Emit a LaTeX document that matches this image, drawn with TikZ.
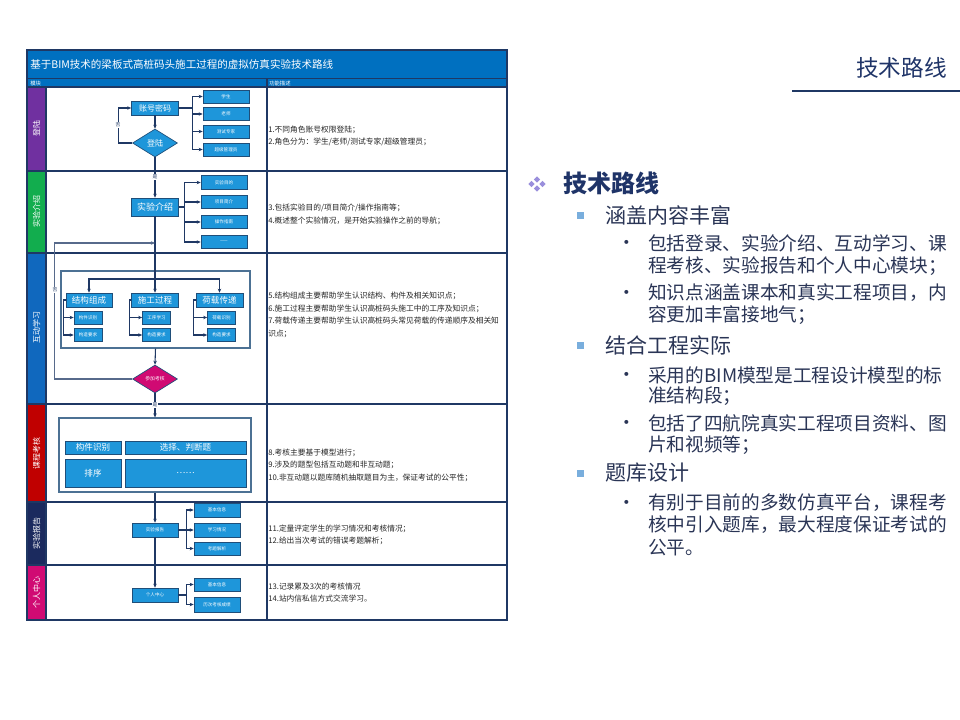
\documentclass[tikz,border=0pt]{standalone}
\usepackage{fontspec}
\setmainfont{Noto Sans CJK SC}
\usetikzlibrary{arrows.meta,shapes.geometric}
\definecolor{gridc}{HTML}{1F3864}
\definecolor{titleblue}{HTML}{0070C0}
\definecolor{boxfill}{HTML}{1E96DA}
\definecolor{boxedge}{HTML}{1F4E79}
\definecolor{mpurple}{HTML}{7030A0}
\definecolor{mgreen}{HTML}{12AD4E}
\definecolor{mblue}{HTML}{1068BE}
\definecolor{mred}{HTML}{C00000}
\definecolor{mnavy}{HTML}{1B2A5E}
\definecolor{mmag}{HTML}{D00A73}
\definecolor{headc}{HTML}{1F3468}
\definecolor{bodyc}{HTML}{2A3556}
\definecolor{lav}{HTML}{9A8FDC}
\definecolor{sqblue}{HTML}{79AEDD}
\newcommand\fsz[1]{\fontsize{#1}{#1}\selectfont}
\tikzset{
  box/.style={draw=boxedge, line width=0.5pt, fill=boxfill, text=white, inner sep=0pt, font=\fsz{6}},
  smallbox/.style={box, font=\fsz{3.4}},
  conn/.style={draw=gridc, line width=0.8pt},
  arr/.style={conn, -{Stealth[length=3pt,width=2.6pt]}},
  desc/.style={anchor=west, inner sep=0pt, font=\fsz{5.8}, text=black!85},
  modlabel/.style={rotate=90, text=white, font=\fsz{6}, inner sep=0pt},
  yn/.style={fill=white, inner sep=0.4pt, font=\fsz{3.6}, text=gridc},
  lvtwo/.style={anchor=west, inner sep=0pt, font=\fsz{15.75}, text=bodyc},
  lvthree/.style={anchor=west, inner sep=0pt, font=\fsz{14}, text=bodyc},
  frm/.style={draw=boxedge!80, line width=0.9pt, fill=white, inner sep=0pt}
}
\begin{document}
\begin{tikzpicture}[x=0.75pt,y=-0.75pt]
\useasboundingbox (0,0) rectangle (960,720);
\fill[white] (0,0) rectangle (960,720);

% header top right
\node[anchor=west, inner sep=0pt, font=\fsz{17}, text=headc] (hdr) at (856,68) {技术路线};
\draw[gridc, line width=1.3pt] (792,91) -- (960,91);

% ===== left diagram frame =====
\fill[titleblue] (27,50) rectangle (507,78);
\node[anchor=west, inner sep=0pt, text=white, font=\fsz{7.9}] (ttl) at (30,64) {基于BIM技术的梁板式高桩码头施工过程的虚拟仿真实验技术路线};
\fill[titleblue] (27,79) rectangle (507,87);
\node[anchor=west, inner sep=0pt, text=white, font=\fsz{4}] (hm) at (30,83) {模块};
\node[anchor=west, inner sep=0pt, text=white, font=\fsz{4}] (hd) at (269,83) {功能描述};

% module colour cells
\fill[mpurple] (27,87) rectangle (46,171);
\fill[mgreen] (27,171) rectangle (46,253);
\fill[mblue] (27,253) rectangle (46,404);
\fill[mred] (27,404) rectangle (46,502);
\fill[mnavy] (27,502) rectangle (46,565);
\fill[mmag] (27,565) rectangle (46,620);
\node[modlabel] (m1) at (36.5,129) {登陆};
\node[modlabel] (m2) at (36.5,212) {实验介绍};
\node[modlabel] (m3) at (36.5,328) {互动学习};
\node[modlabel] (m4) at (36.5,453) {课程考核};
\node[modlabel] (m5) at (36.5,533) {实验报告};
\node[modlabel] (m6) at (36.5,592) {个人中心};

% grid lines
\draw[gridc, line width=1.5pt] (27,50) rectangle (507,620);
\draw[gridc, line width=1.2pt] (27,78.5) -- (507,78.5);
\foreach \yy in {87,171,253,404,502,565} \draw[gridc, line width=1.6pt] (27,\yy) -- (507,\yy);
\draw[gridc, line width=1.2pt] (267,79) -- (267,620);
\draw[gridc, line width=0.8pt] (46,87) -- (46,620);

% ===== row 1 =====
\node[box, minimum width=35.25pt, minimum height=10.5pt] (acct) at (155,108) {账号密码};
\node[diamond, draw=boxedge, line width=0.5pt, fill=boxfill, text=white, inner sep=0pt, aspect=1.6, minimum width=33.75pt, minimum height=21pt, font=\fsz{6}] (login) at (155,143) {登陆};
\node[smallbox, minimum width=34.5pt, minimum height=9.75pt] (r1) at (226,96.5) {学生};
\node[smallbox, minimum width=34.5pt, minimum height=9.75pt] (r2) at (226,114) {老师};
\node[smallbox, minimum width=34.5pt, minimum height=9.75pt] (r3) at (226,131.5) {测试专家};
\node[smallbox, minimum width=34.5pt, minimum height=9.75pt] (r4) at (226,149.5) {超级管理员};
\draw[arr] (acct) -- (login);
\draw[arr] (login.west) -- ++(-14,0) |- (acct.west);
\foreach \n in {r1,r2,r3,r4} \draw[arr] (acct.east) -- ++(14,0) |- (\n.west);
\node[yn] (no1) at (118,125) {否};

% ===== row 2 =====
\node[box, minimum width=35.25pt, minimum height=13.5pt, font=\fsz{6.75}] (intro) at (155,207) {实验介绍};
\node[smallbox, minimum width=34.5pt, minimum height=10pt] (i1) at (224,182.5) {实验目的};
\node[smallbox, minimum width=34.5pt, minimum height=10pt] (i2) at (224,202) {项目简介};
\node[smallbox, minimum width=34.5pt, minimum height=10pt] (i3) at (224,222) {操作指南};
\node[smallbox, minimum width=34.5pt, minimum height=10pt] (i4) at (224,242) {——};
\draw[arr] (login.south) -- (intro.north);
\node[yn] (yes1) at (155,177) {是};
\foreach \n in {i1,i2,i3,i4} \draw[arr] (intro.east) -- ++(6,0) |- (\n.west);

% ===== row 3 =====
\node[frm, minimum width=141.75pt, minimum height=57.75pt] (frame1) at (155.5,309.5) {};
\node[box, minimum width=34.5pt, minimum height=10.5pt, font=\fsz{6.4}] (b1) at (89,300) {结构组成};
\node[box, minimum width=35.25pt, minimum height=10.5pt, font=\fsz{6.4}] (b2) at (155,300) {施工过程};
\node[box, minimum width=35.25pt, minimum height=10.5pt, font=\fsz{6.4}] (b3) at (219.5,300) {荷载传递};
\node[smallbox, minimum width=21pt, minimum height=9.75pt] (s11) at (88,317.5) {构件识别};
\node[smallbox, minimum width=21pt, minimum height=9.75pt] (s12) at (88,335) {构造要求};
\node[smallbox, minimum width=21pt, minimum height=9.75pt] (s21) at (156.5,317.5) {工序学习};
\node[smallbox, minimum width=21pt, minimum height=9.75pt] (s22) at (156.5,335) {构造要求};
\node[smallbox, minimum width=21pt, minimum height=9.75pt] (s31) at (221.5,317.5) {荷载识别};
\node[smallbox, minimum width=21pt, minimum height=9.75pt] (s32) at (221.5,335) {构造要求};
\coordinate (dist) at (155,279);
\coordinate (loopin) at (155,243);
\draw[arr] (intro.south) -- (b2.north);
\draw[arr] (dist) -| (b1.north);
\draw[arr] (dist) -| (b3.north);
\foreach \h/\a/\b in {b1/s11/s12,b2/s21/s22,b3/s31/s32} {
  \draw[arr] (\h.west) -- ++(-2,0) |- (\a.west);
  \draw[arr] (\h.west) -- ++(-2,0) |- (\b.west);
}
\node[diamond, draw=boxedge, line width=0.5pt, fill=mmag, text=white, inner sep=0pt, aspect=1.6, minimum width=33.75pt, minimum height=21pt, font=\fsz{3.6}] (exam) at (155,379) {参加考核};
\draw[arr] (frame1.south) -- (exam.north);
\draw[arr, draw=gridc!75] (exam.west) -- ++(-78,0) |- (loopin);
\node[yn] (no2) at (55,290) {否};

% ===== row 4 =====
\node[frm, minimum width=144pt, minimum height=55.5pt] (frame2) at (155,455) {};
\node[box, minimum width=42pt, minimum height=9.75pt, font=\fsz{6.4}] (q1) at (93,447.5) {构件识别};
\node[box, minimum width=90.75pt, minimum height=9.75pt, font=\fsz{6.4}] (q2) at (185.5,447.5) {选择、判断题};
\node[box, minimum width=42pt, minimum height=21pt, font=\fsz{6.4}] (q3) at (93,473) {排序};
\node[box, minimum width=90.75pt, minimum height=21pt, font=\fsz{6.4}] (q4) at (185.5,473) {……};
\draw[arr] (exam.south) -- (frame2.north);
\node[yn] (yes2) at (155,405) {是};

% ===== row 5 =====
\node[smallbox, minimum width=34.5pt, minimum height=10.5pt] (report) at (155,530) {实验报告};
\node[smallbox, minimum width=34.5pt, minimum height=10.5pt] (p1) at (217,510) {基本信息};
\node[smallbox, minimum width=34.5pt, minimum height=10.5pt] (p2) at (217,530) {学习情况};
\node[smallbox, minimum width=34.5pt, minimum height=10pt] (p3) at (217,548.5) {考题解析};
\draw[arr] (frame2.south) -- (report.north);
\foreach \n in {p1,p2,p3} \draw[arr] (report.east) -- ++(8,0) |- (\n.west);

% ===== row 6 =====
\node[smallbox, minimum width=34.5pt, minimum height=10.5pt] (center) at (155,595) {个人中心};
\node[smallbox, minimum width=34.5pt, minimum height=9.75pt] (c1) at (217,584.5) {基本信息};
\node[smallbox, minimum width=34.5pt, minimum height=11pt] (c2) at (217,604.5) {历次考核成绩};
\draw[arr] (report.south) -- (center.north);
\foreach \n in {c1,c2} \draw[arr] (center.east) -- ++(8,0) |- (\n.west);

% ===== descriptions =====
\node[desc] (d1) at (268,130) {1.不同角色账号权限登陆；};
\node[desc] (d2) at (268,142) {2.角色分为：学生/老师/测试专家/超级管理员；};
\node[desc] (d3) at (268,208) {3.包括实验目的/项目简介/操作指南等；};
\node[desc] (d4) at (268,221) {4.概述整个实验情况，是开始实验操作之前的导航；};
\node[desc] (d5) at (268,296) {5.结构组成主要帮助学生认识结构、构件及相关知识点；};
\node[desc] (d6) at (268,308.5) {6.施工过程主要帮助学生认识高桩码头施工中的工序及知识点；};
\node[desc] (d7) at (268,321) {7.荷载传递主要帮助学生认识高桩码头常见荷载的传递顺序及相关知};
\node[desc] (d7b) at (268,333.5) {识点；};
\node[desc] (d8) at (268,453) {8.考核主要基于模型进行；};
\node[desc] (d9) at (268,465) {9.涉及的题型包括互动题和非互动题；};
\node[desc] (d10) at (268,478) {10.非互动题以题库随机抽取题目为主，保证考试的公平性；};
\node[desc] (d11) at (268,529) {11.定量评定学生的学习情况和考核情况；};
\node[desc] (d12) at (268,541) {12.给出当次考试的错误考题解析；};
\node[desc] (d13) at (268,587) {13.记录累及3次的考核情况};
\node[desc] (d14) at (268,599) {14.站内信私信方式交流学习。};

% ===== right text =====
\foreach \dx/\dy in {-5.5/0,5.5/0,0/-4.5,0/4.5}
  \fill[lav] (537+\dx,184+\dy) +(-3.2,0) -- +(0,-3.2) -- +(3.2,0) -- +(0,3.2) -- cycle;
\node[anchor=west, inner sep=0pt, font=\bfseries\fsz{18}, text=headc] (h1) at (563,183) {技术路线};

\fill[sqblue] (577,212) rectangle (584,219);
\node[lvtwo] (t1) at (605,215) {涵盖内容丰富};
\node[anchor=center, inner sep=0pt, font=\fsz{14}, text=bodyc] (bu1) at (627,245) {•};
\node[lvthree] (t11) at (648,243) {包括登录、实验介绍、互动学习、课};
\node[lvthree] (t11b) at (648,266) {程考核、实验报告和个人中心模块；};
\node[anchor=center, inner sep=0pt, font=\fsz{14}, text=bodyc] (bu2) at (627,295) {•};
\node[lvthree] (t12) at (648,293) {知识点涵盖课本和真实工程项目，内};
\node[lvthree] (t12b) at (648,315) {容更加丰富接地气；};

\fill[sqblue] (577,342) rectangle (584,349);
\node[lvtwo] (t2) at (605,345) {结合工程实际};
\node[anchor=center, inner sep=0pt, font=\fsz{14}, text=bodyc] (bu3) at (627,377) {•};
\node[lvthree] (t21) at (648,375) {采用的BIM模型是工程设计模型的标};
\node[lvthree] (t21b) at (648,396) {准结构段；};
\node[anchor=center, inner sep=0pt, font=\fsz{14}, text=bodyc] (bu4) at (627,425) {•};
\node[lvthree] (t22) at (648,423) {包括了四航院真实工程项目资料、图};
\node[lvthree] (t22b) at (648,445) {片和视频等；};

\fill[sqblue] (577,470) rectangle (584,477);
\node[lvtwo] (t3) at (605,473) {题库设计};
\node[anchor=center, inner sep=0pt, font=\fsz{14}, text=bodyc] (bu5) at (627,505) {•};
\node[lvthree] (t31) at (648,503) {有别于目前的多数仿真平台，课程考};
\node[lvthree] (t31b) at (648,525) {核中引入题库，最大程度保证考试的};
\node[lvthree] (t31c) at (648,548) {公平。};
\end{tikzpicture}
\end{document}
